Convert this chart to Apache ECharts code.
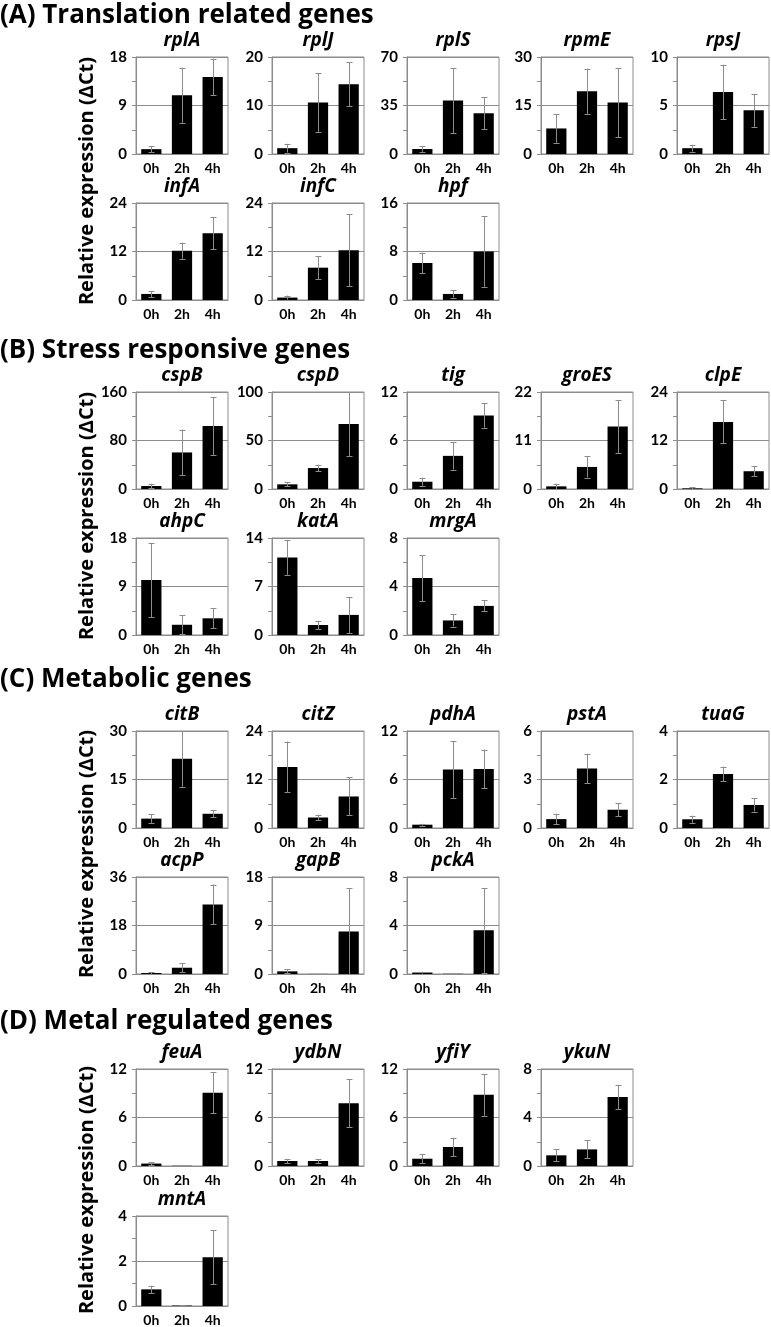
<!DOCTYPE html>
<html><head><meta charset="utf-8">
<script src="https://cdn.jsdelivr.net/npm/echarts@6/dist/echarts.min.js"></script>
<style>html,body{margin:0;padding:0;background:#fff}#c{width:771px;height:1327px}</style>
</head><body><div id="c"></div>
<script>
const timepoints = ['0h', '2h', '4h'];
const sectionTitles = ['(A) Translation related genes', '(B) Stress responsive genes', '(C) Metabolic genes', '(D) Metal regulated genes'];
const yAxisName = 'Relative expression (ΔCt)';

const genesA = ['rplA', 'rplJ', 'rplS', 'rpmE', 'rpsJ', 'infA', 'infC', 'hpf'];
const maxA = [18, 20, 70, 30, 10, 24, 24, 16];
const meanA = [[0.9, 10.9, 14.3], [1.2, 10.6, 14.4], [3.6, 38.6, 29.4], [7.9, 19.4, 15.9], [0.6, 6.4, 4.5], [1.5, 12.2, 16.5], [0.6, 8.0, 12.3], [6.1, 1.0, 8.0]];
const errA = [[0.55, 5.1, 3.4], [0.9, 6.0, 4.5], [2.0, 23.4, 11.4], [4.4, 7.0, 10.7], [0.35, 2.8, 1.7], [0.75, 2.0, 4.0], [0.5, 2.8, 8.9], [1.7, 0.6, 5.8]];

const genesB = ['cspB', 'cspD', 'tig', 'groES', 'clpE', 'ahpC', 'katA', 'mrgA'];
const maxB = [160, 100, 12, 22, 24, 18, 14, 8];
const meanB = [[4.9, 60.3, 104], [4.8, 21.6, 67.1], [0.9, 4.1, 9.1], [0.6, 5.0, 14.2], [0.16, 16.6, 4.4], [10.2, 1.9, 3.1], [11.2, 1.44, 2.9], [4.7, 1.2, 2.4]];
const errB = [[3.9, 37.8, 47.8], [2.0, 3.4, 32.9], [0.5, 1.7, 1.5], [0.6, 2.4, 6.0], [0.25, 5.3, 1.2], [6.9, 1.8, 1.85], [2.5, 0.6, 2.6], [1.9, 0.5, 0.45]];

const genesC = ['citB', 'citZ', 'pdhA', 'pstA', 'tuaG', 'acpP', 'gapB', 'pckA'];
const maxC = [30, 24, 12, 6, 4, 36, 18, 8];
const meanC = [[2.9, 21.4, 4.4], [15.1, 2.6, 7.8], [0.41, 7.23, 7.3], [0.55, 3.68, 1.13], [0.36, 2.23, 0.95], [0.37, 2.33, 25.8], [0.49, 0.02, 7.9], [0.12, 0.02, 3.6]];
const errC = [[1.3, 8.6, 1.1], [6.3, 0.7, 4.7], [0.12, 3.5, 2.4], [0.33, 0.92, 0.39], [0.15, 0.3, 0.27], [0.37, 1.7, 7.4], [0.37, 0.01, 8.0], [0.08, 0.01, 3.5]];

const genesD = ['feuA', 'ydbN', 'yfiY', 'ykuN', 'mntA'];
const maxD = [12, 12, 12, 8, 4];
const meanD = [[0.3, 0.03, 9.07], [0.62, 0.62, 7.75], [0.9, 2.35, 8.8], [0.88, 1.37, 5.69], [0.74, 0.02, 2.17]];
const errD = [[0.2, 0.01, 2.55], [0.25, 0.25, 2.97], [0.58, 1.15, 2.6], [0.5, 0.75, 1.0], [0.16, 0.01, 1.2]];

// ---- layout (positions only) ----
const sections = [
  {genes: genesA, max: maxA, mean: meanA, err: errA, perRow: 5, rowTops: [57, 203], titleY: 16, labelY: 181},
  {genes: genesB, max: maxB, mean: meanB, err: errB, perRow: 5, rowTops: [392, 538], titleY: 351, labelY: 516},
  {genes: genesC, max: maxC, mean: meanC, err: errC, perRow: 5, rowTops: [731, 877], titleY: 680, labelY: 854},
  {genes: genesD, max: maxD, mean: meanD, err: errD, perRow: 4, rowTops: [1069, 1216], titleY: 1022, labelY: 1190}
];
const colLefts = [136, 272, 407, 541, 677];
const PW = 92, PH = 97;
const FONT = 'Lato';
const TFONT = '"Open Sans"';
const GRAY = '#8c8c8c';

const grids = [], xAxes = [], yAxes = [], series = [], graphics = [];
let gi = 0;
sections.forEach((s, si) => {
  graphics.push({type: 'text', x: 0, y: s.titleY, style: {text: sectionTitles[si], font: 'bold 26px ' + TFONT, fill: '#000', textVerticalAlign: 'middle'}});
  graphics.push({type: 'text', x: 87, y: s.labelY, rotation: Math.PI / 2, style: {text: yAxisName, font: 'bold 20px ' + TFONT, fill: '#000', textAlign: 'center', textVerticalAlign: 'middle'}});
  s.genes.forEach((g, i) => {
    const row = i < s.perRow ? 0 : 1;
    const col = row === 0 ? i : i - s.perRow;
    const left = colLefts[col], top = s.rowTops[row];
    grids.push({left: left, top: top, width: PW, height: PH, show: true, borderColor: GRAY, borderWidth: 1, containLabel: false});
    graphics.push({type: 'text', x: left + PW / 2, y: top - 16, style: {text: g, font: 'italic bold 19px ' + TFONT, fill: '#000', textAlign: 'center', textVerticalAlign: 'middle'}});
    xAxes.push({type: 'category', gridIndex: gi, data: timepoints,
      axisLine: {show: true, lineStyle: {color: GRAY, width: 1}}, axisTick: {show: false},
      axisLabel: {color: '#000', fontWeight: 'bold', fontSize: 14, fontFamily: FONT, margin: 7}});
    const M = s.max[i];
    yAxes.push({type: 'value', gridIndex: gi, min: 0, max: M, interval: M / 2,
      axisLine: {show: true, lineStyle: {color: GRAY, width: 1}},
      axisTick: {show: true, length: 4, lineStyle: {color: GRAY}},
      minorTick: {show: true, splitNumber: 2, length: 4, lineStyle: {color: GRAY}},
      splitLine: {show: true, lineStyle: {color: GRAY, width: 1}},
      axisLabel: {color: '#000', fontWeight: 'bold', fontSize: 15, fontFamily: FONT, margin: 9}});
    series.push({type: 'bar', xAxisIndex: gi, yAxisIndex: gi, data: s.mean[i], barWidth: '66%', itemStyle: {color: '#000'}, silent: true, animation: false});
    series.push({type: 'custom', xAxisIndex: gi, yAxisIndex: gi, z: 5, silent: true, animation: false,
      data: s.mean[i].map((m, k) => [k, m, s.err[i][k]]),
      encode: {x: 0, y: 1},
      renderItem: function (params, api) {
        const k = api.value(0), m = api.value(1), e = api.value(2);
        const t = api.coord([k, m + e]);
        const b = api.coord([k, Math.max(0, m - e)]);
        const x = Math.round(t[0]) + 0.5, hw = 3;
        const st = {stroke: GRAY, lineWidth: 1};
        return {type: 'group', children: [
          {type: 'line', shape: {x1: x, y1: t[1], x2: x, y2: b[1]}, style: st},
          {type: 'line', shape: {x1: x - hw, y1: Math.round(t[1]) + 0.5, x2: x + hw, y2: Math.round(t[1]) + 0.5}, style: st},
          {type: 'line', shape: {x1: x - hw, y1: Math.round(b[1]) + 0.5, x2: x + hw, y2: Math.round(b[1]) + 0.5}, style: st}
        ]};
      }});
    gi++;
  });
});

const chart = echarts.init(document.getElementById('c'), null, {renderer: 'canvas'});
chart.setOption({animation: false, grid: grids, xAxis: xAxes, yAxis: yAxes, series: series, graphic: graphics});
</script></body></html>
